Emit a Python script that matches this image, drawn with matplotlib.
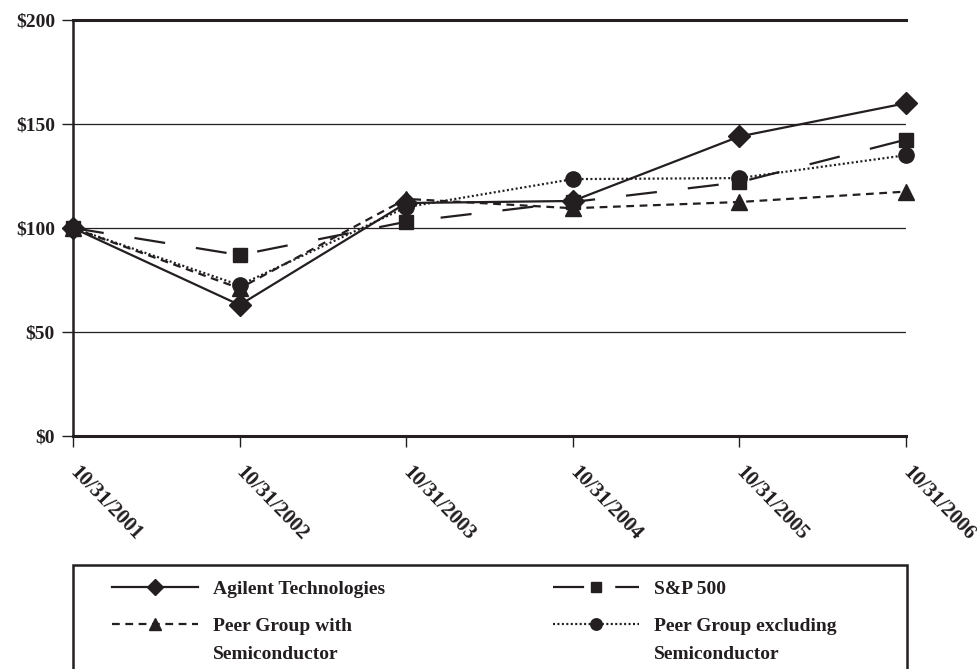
import matplotlib
matplotlib.use("Agg")
import matplotlib.pyplot as plt
import matplotlib.patches as patches
import matplotlib.transforms as mtransforms

dates = ["10/31/2001", "10/31/2002", "10/31/2003", "10/31/2004", "10/31/2005", "10/31/2006"]
agilent = [100, 63, 112, 113, 144, 160]
sp500 = [100, 87, 103, 112.5, 122, 142.5]
peer_with = [100, 71, 114, 109.5, 112.5, 117.5]
peer_ex = [100, 72.5, 110, 123.5, 124, 135]
yticks = [0, 50, 100, 150, 200]
ytick_labels = ["$0", "$50", "$100", "$150", "$200"]

ink = "#231f20"
plt.rcParams["font.family"] = ["Liberation Serif", "DejaVu Serif"]
plt.rcParams["font.weight"] = "bold"

W, H = 977, 669
fig = plt.figure(figsize=(W / 100, H / 100), dpi=100)
ax = fig.add_axes([73 / W, 1 - 436 / H, (906 - 73) / W, (436 - 20) / H])

x = list(range(len(dates)))
l1, = ax.plot(x, agilent, color=ink, lw=1.6, ls="-", marker="D", ms=11, clip_on=False, zorder=5)
l2, = ax.plot(x, sp500, color=ink, lw=1.6, marker="s", ms=10, clip_on=False, zorder=4,
              dashes=(14, 14))
l3, = ax.plot(x, peer_with, color=ink, lw=1.6, marker="^", ms=12, clip_on=False, zorder=4,
              dashes=(3.5, 2.5))
l4, = ax.plot(x, peer_ex, color=ink, lw=1.6, marker="o", ms=11, clip_on=False, zorder=4,
              dashes=(0.9, 1.1))

ax.set_xlim(0, 5)
ax.set_ylim(0, 200)
ax.set_yticks(yticks)
ax.set_yticklabels(ytick_labels, fontsize=14, fontweight="bold")
ax.set_xticks(x)
ax.set_xticklabels(dates, fontsize=15, fontweight="bold", rotation=-46,
                   ha="left", va="top", rotation_mode="anchor")
ax.tick_params(axis="both", direction="out", length=8, width=1, color=ink, labelcolor=ink)
ax.tick_params(axis="x", pad=11)
ax.tick_params(axis="y", pad=5)

# nudge the slanted date labels so they start right under the tick
shift = mtransforms.ScaledTranslation(7 / 100, 0, fig.dpi_scale_trans)
for lab in ax.get_xticklabels():
    lab.set_transform(lab.get_transform() + shift)

for y in [50, 100, 150]:
    ax.axhline(y, color=ink, lw=0.9, zorder=1)

ax.spines["right"].set_visible(False)
for s in ["top", "bottom"]:
    ax.spines[s].set_linewidth(2.2)
    ax.spines[s].set_color(ink)
ax.spines["left"].set_linewidth(1.8)
ax.spines["left"].set_color(ink)

# legend frame, bottom edge runs off the figure
frame = patches.Rectangle((73 / W, -0.05), (907 - 73) / W, (1 - 565 / H) + 0.05,
                          transform=fig.transFigure, fill=False, lw=1.8,
                          edgecolor=ink, clip_on=False)
fig.patches.append(frame)

leg_kw = dict(frameon=False, handlelength=4.4, handletextpad=0.8,
              labelspacing=1.0, borderpad=0, borderaxespad=0, markerscale=0.75,
              loc="upper left", prop={"weight": "bold", "size": 14})
leg1 = fig.legend([l1, l3], ["Agilent Technologies", "Peer Group with"],
                  bbox_to_anchor=(112 / W, 1 - 580 / H), **leg_kw)
leg2 = fig.legend([l2, l4], ["S&P 500", "Peer Group excluding"],
                  bbox_to_anchor=(553 / W, 1 - 580 / H), **leg_kw)
for leg in (leg1, leg2):
    for t in leg.get_texts():
        t.set_color(ink)

fig.canvas.draw()
inv = fig.transFigure.inverted()
for leg in (leg1, leg2):
    t = leg.get_texts()[1]
    bb = t.get_window_extent()
    x0, y0 = inv.transform((bb.x0, bb.y0))
    fig.text(x0, y0 - 28 / H, "Semiconductor", fontsize=14, fontweight="bold",
             color=ink, ha="left", va="bottom")

fig.savefig("out.png", dpi=100)
